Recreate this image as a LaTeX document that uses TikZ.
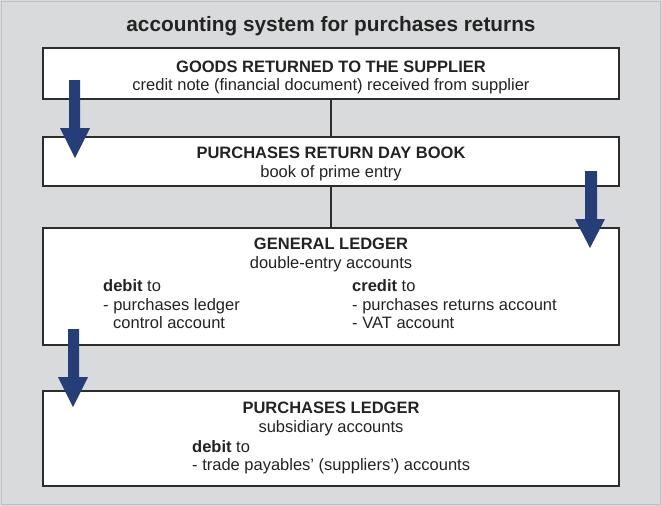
\documentclass[tikz,border=0pt]{standalone}
\usepackage{fontspec}
\setmainfont{Liberation Sans}
\definecolor{bggray}{RGB}{217,218,219}
\definecolor{edgegray}{RGB}{190,191,192}
\definecolor{boxline}{RGB}{45,45,45}
\definecolor{txt}{RGB}{35,35,35}
\definecolor{arrowblue}{RGB}{37,62,120}
\tikzset{
  box/.style={draw=boxline, line width=2pt, fill=white, inner sep=0pt},
  conn/.style={draw=boxline, line width=1.5pt},
  txtnode/.style={inner sep=0pt, text=txt, font=\fontsize{16.5}{19}\selectfont},
  ttl/.style={inner sep=0pt, text=txt, font=\fontsize{20.8}{24}\selectfont\bfseries},
  bigarrow/.style={fill=arrowblue, draw=none}
}
\begin{document}
\begin{tikzpicture}[x=1pt,y=-1pt]
\useasboundingbox (0,0) rectangle (662,506);
\fill[bggray] (0,0) rectangle (662,506);
\draw[edgegray, line width=1pt] (1,1) rectangle (660.5,504.5);
% title
\node[ttl, anchor=base] (title) at (331,31) {accounting system for purchases returns};
% boxes
\node[box, minimum width=576pt, minimum height=51pt] (b1) at (331,73.5) {};
\node[box, minimum width=576pt, minimum height=49pt] (b2) at (331,161.5) {};
\node[box, minimum width=576pt, minimum height=117pt] (b3) at (331,286.5) {};
\node[box, minimum width=576pt, minimum height=95pt] (b4) at (331,438.5) {};
% connectors
\draw[conn] (b1.south) -- (b2.north);
\draw[conn] (b2.south) -- (b3.north);
% box 1 text
\node[txtnode, anchor=base] (t1a) at (331,72) {\bfseries GOODS RETURNED TO THE SUPPLIER};
\node[txtnode, anchor=base] (t1b) at (331,90) {credit note (financial document) received from supplier};
% box 2 text
\node[txtnode, anchor=base] (t2a) at (331,158.5) {\bfseries PURCHASES RETURN DAY BOOK};
\node[txtnode, anchor=base] (t2b) at (331,177) {book of prime entry};
% box 3 text
\node[txtnode, anchor=base] (t3a) at (331,249) {\bfseries GENERAL LEDGER};
\node[txtnode, anchor=base] (t3b) at (331,268) {double-entry accounts};
\node[txtnode, anchor=base west] (t3c) at (103,291) {\bfseries debit\mdseries{} to};
\node[txtnode, anchor=base west] (t3d) at (103,310) {- purchases ledger};
\node[txtnode, anchor=base west] (t3e) at (113,328.5) {control account};
\node[txtnode, anchor=base west] (t3f) at (352,291) {\bfseries credit\mdseries{} to};
\node[txtnode, anchor=base west] (t3g) at (352,310) {- purchases returns account};
\node[txtnode, anchor=base west] (t3h) at (352,328.5) {- VAT account};
% box 4 text
\node[txtnode, anchor=base] (t4a) at (331,413) {\bfseries PURCHASES LEDGER};
\node[txtnode, anchor=base] (t4b) at (331,432) {subsidiary accounts};
\node[txtnode, anchor=base west] (t4c) at (192,452) {\bfseries debit\mdseries{} to};
\node[txtnode, anchor=base west] (t4d) at (192,470.5) {- trade payables’ (suppliers’) accounts};
% block arrows
\fill[bigarrow] (69,80) -- (80,80) -- (80,128) -- (90,128) -- (75,158) -- (60,128) -- (69,128) -- cycle;
\fill[bigarrow] (585,171) -- (597,171) -- (597,219) -- (605,219) -- (590,248) -- (575,219) -- (585,219) -- cycle;
\fill[bigarrow] (68,329) -- (79,329) -- (79,377) -- (88,377) -- (73,407) -- (58,377) -- (68,377) -- cycle;
\end{tikzpicture}
\end{document}
